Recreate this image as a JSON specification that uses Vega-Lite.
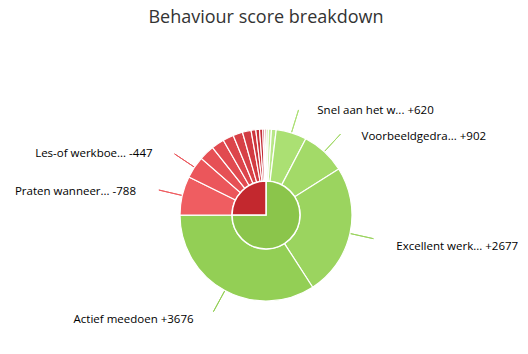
{
  "$schema": "https://vega.github.io/schema/vega-lite/v6.json",
  "width": 524,
  "height": 278,
  "autosize": {"type": "none"},
  "padding": {"left": 4, "top": 76, "right": 0, "bottom": 0},
  "background": "white",
  "title": {"text": "Behaviour score breakdown", "font": "Open Sans", "fontSize": 18, "fontWeight": "normal", "color": "#333333", "anchor": "middle", "offset": 49},
  "config": {"view": {"stroke": null}},
  "data": {"values": [
    {"name": "Positief 1", "label": "", "points": 50, "type": "positive"},
    {"name": "Positief 2", "label": "", "points": 60, "type": "positive"},
    {"name": "Positief 3", "label": "", "points": 95, "type": "positive"},
    {"name": "Snel aan het werk", "label": "Snel aan het w... +620", "points": 620, "type": "positive"},
    {"name": "Voorbeeldgedrag", "label": "Voorbeeldgedra... +902", "points": 902, "type": "positive"},
    {"name": "Excellent werk", "label": "Excellent werk... +2677", "points": 2677, "type": "positive"},
    {"name": "Actief meedoen", "label": "Actief meedoen +3676", "points": 3676, "type": "positive"},
    {"name": "Praten wanneer", "label": "Praten wanneer... -788", "points": 788, "type": "negative"},
    {"name": "Les-of werkboek", "label": "Les-of werkboe... -447", "points": 447, "type": "negative"},
    {"name": "Negatief 3", "label": "", "points": 310, "type": "negative"},
    {"name": "Negatief 4", "label": "", "points": 260, "type": "negative"},
    {"name": "Negatief 5", "label": "", "points": 220, "type": "negative"},
    {"name": "Negatief 6", "label": "", "points": 195, "type": "negative"},
    {"name": "Negatief 7", "label": "", "points": 175, "type": "negative"},
    {"name": "Negatief 8", "label": "", "points": 95, "type": "negative"},
    {"name": "Negatief 9", "label": "", "points": 75, "type": "negative"},
    {"name": "Negatief 10", "label": "", "points": 65, "type": "negative"},
    {"name": "Negatief 11", "label": "", "points": 35, "type": "negative"},
    {"name": "Negatief 12", "label": "", "points": 30, "type": "negative"}
  ]},
  "transform": [
    {"window": [{"op": "row_number", "as": "idx"}, {"op": "sum", "field": "points", "as": "cum"}], "frame": [null, 0]},
    {"joinaggregate": [{"op": "sum", "field": "points", "as": "total"}]}
  ],
  "layer": [
    {
      "mark": {"type": "arc", "filled": false, "padAngle": 3.14159, "innerRadius": 86, "outerRadius": 110, "strokeWidth": 1},
      "encoding": {
        "theta": {"field": "points", "type": "quantitative", "stack": true},
        "order": {"field": "idx", "type": "quantitative"},
        "color": {"field": "name", "type": "nominal", "legend": null, "scale": {
          "domain": ["Positief 1", "Positief 2", "Positief 3", "Snel aan het werk", "Voorbeeldgedrag", "Excellent werk", "Actief meedoen", "Praten wanneer", "Les-of werkboek", "Negatief 3", "Negatief 4", "Negatief 5", "Negatief 6", "Negatief 7", "Negatief 8", "Negatief 9", "Negatief 10", "Negatief 11", "Negatief 12"],
          "range": ["#d0f2ab", "#c3ec96", "#b8e787", "#abe073", "#a3da68", "#9bd45f", "#93cf55", "#ef5d61", "#eb565b", "#e65055", "#e14a50", "#dc454b", "#d74046", "#d23b42", "#cd363d", "#c83239", "#c32d35", "#bf2a32", "#bb272f"]}},
        "strokeOpacity": {"condition": {"test": "datum.label != ''", "value": 1}, "value": 0}
      }
    },
    {
      "mark": {"type": "arc", "innerRadius": 34, "outerRadius": 86, "stroke": "#ffffff", "strokeWidth": 1.2},
      "encoding": {
        "theta": {"field": "points", "type": "quantitative", "stack": true},
        "order": {"field": "idx", "type": "quantitative"},
        "color": {"field": "name", "type": "nominal", "legend": null, "scale": {
          "domain": ["Positief 1", "Positief 2", "Positief 3", "Snel aan het werk", "Voorbeeldgedrag", "Excellent werk", "Actief meedoen", "Praten wanneer", "Les-of werkboek", "Negatief 3", "Negatief 4", "Negatief 5", "Negatief 6", "Negatief 7", "Negatief 8", "Negatief 9", "Negatief 10", "Negatief 11", "Negatief 12"],
          "range": ["#d0f2ab", "#c3ec96", "#b8e787", "#abe073", "#a3da68", "#9bd45f", "#93cf55", "#ef5d61", "#eb565b", "#e65055", "#e14a50", "#dc454b", "#d74046", "#d23b42", "#cd363d", "#c83239", "#c32d35", "#bf2a32", "#bb272f"]}}
      }
    },
    {
      "transform": [{"aggregate": [{"op": "sum", "field": "points", "as": "points"}], "groupby": ["type"]}],
      "mark": {"type": "arc", "outerRadius": 34, "stroke": "#ffffff", "strokeWidth": 1.5},
      "encoding": {
        "theta": {"field": "points", "type": "quantitative", "stack": true},
        "order": {"field": "type", "type": "nominal", "sort": "descending"},
        "color": {"field": "type", "type": "nominal", "legend": null, "scale": {"domain": ["positive", "negative"], "range": ["#8bc54b", "#c3282e"]}}
      }
    },
    {
      "mark": {"type": "text", "radius": 116, "align": "left", "baseline": "middle", "dx": 17, "dy": 7, "font": "Open Sans", "fontSize": 11.5, "color": "#000000"},
      "encoding": {
        "theta": {"field": "points", "type": "quantitative", "stack": true},
        "order": {"field": "idx", "type": "quantitative"},
        "text": {"condition": {"test": "datum.cum - datum.points / 2 < datum.total / 2", "field": "label", "type": "nominal"}, "value": ""}
      }
    },
    {
      "mark": {"type": "text", "radius": 116, "align": "right", "baseline": "middle", "dx": -17, "dy": 3, "font": "Open Sans", "fontSize": 11.5, "color": "#000000"},
      "encoding": {
        "theta": {"field": "points", "type": "quantitative", "stack": true},
        "order": {"field": "idx", "type": "quantitative"},
        "text": {"condition": {"test": "datum.cum - datum.points / 2 >= datum.total / 2", "field": "label", "type": "nominal"}, "value": ""}
      }
    }
  ],
  "resolve": {"scale": {"color": "independent"}}
}
